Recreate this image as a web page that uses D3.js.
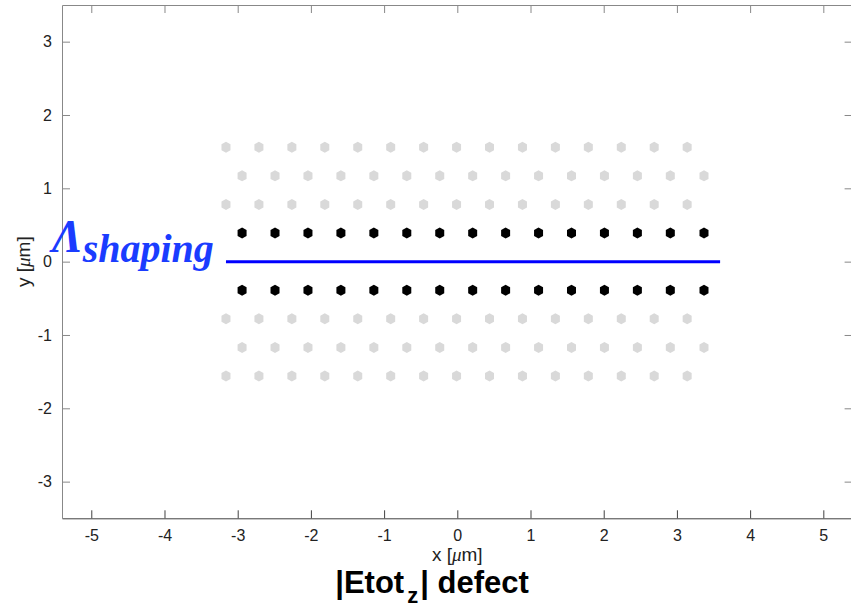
<!DOCTYPE html>
<html>
<head>
<meta charset="utf-8">
<script src="https://cdn.jsdelivr.net/npm/d3@7"></script>
<style>
  body { margin: 0; background: #fff; }
  svg { display: block; font-family: "Liberation Sans", Arial, sans-serif; }
</style>
</head>
<body>
<script>
// lattice rows (y in um) and hole x positions (um)
var xTicks = [-5, -4, -3, -2, -1, 0, 1, 2, 3, 4, 5];
var yTicks = [-3, -2, -1, 0, 1, 2, 3];

var xsA = [-3.16, -2.71, -2.26, -1.81, -1.36, -0.91, -0.46, -0.01, 0.44, 0.89, 1.34, 1.79, 2.24, 2.69, 3.14];
var xsB = [-2.94, -2.49, -2.04, -1.59, -1.14, -0.69, -0.24, 0.21, 0.66, 1.11, 1.56, 2.01, 2.46, 2.91, 3.37];

var grayRows = [
  { y: 1.56, xs: xsA },
  { y: 1.17, xs: xsB },
  { y: 0.78, xs: xsA },
  { y: -0.78, xs: xsA },
  { y: -1.17, xs: xsB },
  { y: -1.56, xs: xsA }
];
var blackRows = [
  { y: 0.39, xs: xsB },
  { y: -0.39, xs: xsB }
];

var lineX = [-3.16, 3.59];
var lineY = 0;

var W = 851, H = 613;
var xDomain = [-5.4, 5.4], yDomain = [-3.5, 3.5];

var x = d3.scaleLinear().domain(xDomain).range([62, 852.6]);
var y = d3.scaleLinear().domain(yDomain).range([518.3, 5]);

var svg = d3.select("body").append("svg")
    .attr("width", W)
    .attr("height", H);

// hexagon marker
function hexPath(cx, cy) {
  var w = 4.5, h = 5.5;
  return "M" + cx + "," + (cy - h) +
    "L" + (cx + w) + "," + (cy - h * 0.55) +
    "L" + (cx + w) + "," + (cy + h * 0.55) +
    "L" + cx + "," + (cy + h) +
    "L" + (cx - w) + "," + (cy + h * 0.55) +
    "L" + (cx - w) + "," + (cy - h * 0.55) + "Z";
}

function drawRows(rows, color) {
  var pts = [];
  rows.forEach(function (r) {
    r.xs.forEach(function (v) { pts.push({ x: v, y: r.y }); });
  });
  svg.append("g").selectAll("path")
    .data(pts)
    .enter().append("path")
    .attr("d", function (d) { return hexPath(x(d.x), y(d.y)); })
    .attr("fill", color);
}

drawRows(grayRows, "#d9d9d9");
drawRows(blackRows, "#000");

// blue line
svg.append("line")
    .attr("x1", x(lineX[0])).attr("x2", x(lineX[1]))
    .attr("y1", y(lineY)).attr("y2", y(lineY))
    .attr("stroke", "#0000ff")
    .attr("stroke-width", 3);

// axes box
var axisColor = "#404040";
var x0 = x(xDomain[0]), x1 = x(xDomain[1]), y0 = y(yDomain[0]), y1 = y(yDomain[1]);
var fmt = function (d) { return String(d); };

function styleTicks(g, c) {
  g.attr("font-family", "'Liberation Sans', Arial, sans-serif");
  g.select(".domain").attr("stroke", c);
  g.selectAll(".tick line").attr("stroke", c);
  g.selectAll("text").attr("font-size", 16).attr("fill", "#222");
}

svg.append("g")
    .attr("transform", "translate(0," + y0 + ")")
    .call(d3.axisBottom(x).tickValues(xTicks).tickFormat(fmt).tickSizeInner(-8).tickSizeOuter(0).tickPadding(11))
    .call(styleTicks, axisColor);

svg.append("g")
    .attr("transform", "translate(0," + y1 + ")")
    .call(d3.axisTop(x).tickValues(xTicks).tickSizeInner(-8).tickSizeOuter(0).tickFormat(""))
    .call(styleTicks, "#888");

svg.append("g")
    .attr("transform", "translate(" + x0 + ",0)")
    .call(d3.axisLeft(y).tickValues(yTicks).tickFormat(fmt).tickSizeInner(-8).tickSizeOuter(0).tickPadding(10))
    .call(styleTicks, "#888");

svg.append("g")
    .attr("transform", "translate(" + x1 + ",0)")
    .call(d3.axisRight(y).tickValues(yTicks).tickSizeInner(-8).tickSizeOuter(0).tickFormat(""))
    .call(styleTicks, "#888");

// axis labels
var xl = svg.append("text")
    .attr("x", x(0)).attr("y", 561)
    .attr("text-anchor", "middle")
    .attr("font-size", 19).attr("fill", "#222");
xl.append("tspan").text("x [");
xl.append("tspan").attr("font-family", "Liberation Serif").attr("font-style", "italic").text("\u03bc");
xl.append("tspan").text("m]");

var yl = svg.append("text")
    .attr("transform", "translate(30," + y(0) + ") rotate(-90)")
    .attr("text-anchor", "middle")
    .attr("font-size", 19).attr("fill", "#222");
yl.append("tspan").text("y [");
yl.append("tspan").attr("font-family", "Liberation Serif").attr("font-style", "italic").text("\u03bc");
yl.append("tspan").text("m]");

// title
var t = svg.append("text")
    .attr("x", 432).attr("y", 593)
    .attr("text-anchor", "middle")
    .attr("font-size", 31).attr("font-weight", "bold").attr("fill", "#000");
t.append("tspan").text("|Etot");
t.append("tspan").attr("font-size", 22).attr("dy", 10).attr("dx", 3).text("z");
t.append("tspan").attr("dy", -10).attr("dx", 2).text("| defect");

// Lambda_shaping annotation
var lab = svg.append("text")
    .attr("x", 52).attr("y", 252)
    .attr("font-family", "'Liberation Serif', 'DejaVu Serif', serif")
    .attr("font-style", "italic").attr("font-weight", "bold")
    .attr("fill", "#1a3cff");
lab.append("tspan").attr("font-size", 46).text("\u039b");
lab.append("tspan").attr("font-size", 40).attr("dy", 10).text("shaping");
</script>
</body>
</html>
